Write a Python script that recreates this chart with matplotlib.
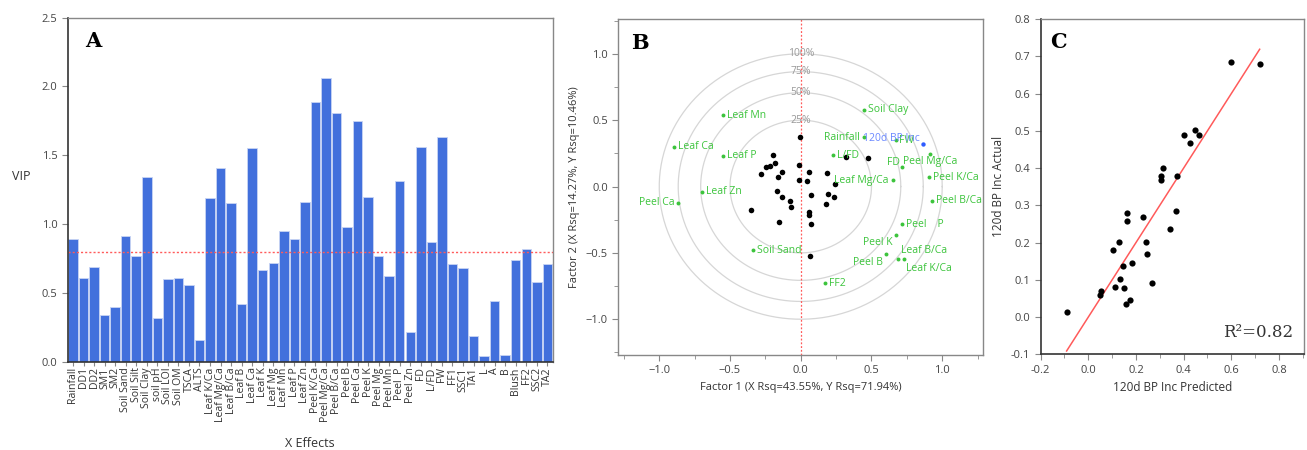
import numpy as np
import matplotlib
matplotlib.use('Agg')
import matplotlib.pyplot as plt

plt.rcParams['font.family'] = ['Open Sans', 'DejaVu Sans']

# ---- panel A data: VIP per X effect
effects = ['Rainfall', 'DD1', 'DD2', 'SM1', 'SM2', 'Soil Sand', 'Soil Silt', 'Soil Clay',
           'soil pH', 'Soil LOI', 'Soil OM', 'TSCA', 'ALTS', 'Leaf K/Ca', 'Leaf Mg/Ca',
           'Leaf B/Ca', 'Leaf B', 'Leaf Ca', 'Leaf K', 'Leaf Mg', 'Leaf Mn', 'Leaf P',
           'Leaf Zn', 'Peel K/Ca', 'Peel Mg/Ca', 'Peel B/Ca', 'Peel B', 'Peel Ca', 'Peel K',
           'Peel Mg', 'Peel Mn', 'Peel  P', 'Peel Zn', 'FD', 'L/FD', 'FW', 'FF1', 'SSC1',
           'TA1', 'L', 'A', 'B', 'Blush', 'FF2', 'SSC2', 'TA2']
vip = [0.89, 0.61, 0.69, 0.34, 0.40, 0.91, 0.77, 1.34,
       0.32, 0.60, 0.61, 0.56, 0.16, 1.19, 1.41,
       1.15, 0.42, 1.55, 0.67, 0.72, 0.95, 0.89,
       1.16, 1.89, 2.06, 1.81, 0.98, 1.75, 1.20,
       0.77, 0.62, 1.31, 0.22, 1.56, 0.87, 1.63, 0.71, 0.68,
       0.19, 0.04, 0.44, 0.05, 0.74, 0.82, 0.58, 0.71]
vip_cut = 0.8

# ---- panel B data: loadings (green), response (blue), scores (black)
load_names = ['Leaf Mn', 'Leaf Ca', 'Leaf P', 'Leaf Zn', 'Peel Ca', 'Soil Clay', 'Rainfall',
              'FW', 'L/FD', 'FD', 'Peel Mg/Ca', 'Leaf Mg/Ca', 'Peel K/Ca', 'Peel B/Ca',
              'Peel    P', 'Peel K', 'Peel B', 'Leaf B/Ca', 'Leaf K/Ca', 'FF2', 'Soil Sand']
load_x = [-0.548, -0.894, -0.546, -0.699, -0.866, 0.445, 0.447,
          0.670, 0.228, 0.717, 0.917, 0.652, 0.908, 0.929,
          0.715, 0.670, 0.602, 0.685, 0.729, 0.169, -0.339]
load_y = [0.537, 0.298, 0.232, -0.038, -0.121, 0.577, 0.373,
          0.351, 0.237, 0.144, 0.247, 0.048, 0.071, -0.108,
          -0.284, -0.365, -0.511, -0.544, -0.547, -0.730, -0.481]
resp_name = '120d BP Inc'
resp_x = 0.863
resp_y = 0.323
score_x = [-0.007, -0.195, -0.183, -0.214, -0.247, -0.284, -0.134, -0.160, -0.012, -0.009,
           0.056, 0.047, 0.186, 0.240, 0.322, 0.473, -0.169, -0.132, -0.078, -0.068,
           -0.355, -0.153, 0.075, 0.195, 0.233, 0.176, 0.059, 0.059, 0.071, 0.064]
score_y = [0.370, 0.234, 0.179, 0.156, 0.146, 0.093, 0.111, 0.071, 0.164, 0.048,
           0.109, 0.043, 0.101, 0.020, 0.222, 0.212, -0.030, -0.076, -0.106, -0.151,
           -0.176, -0.265, -0.063, -0.060, -0.078, -0.128, -0.191, -0.211, -0.279, -0.526]
ring_pct = [25, 50, 75, 100]

# ---- panel C data: predicted vs actual
pred = [-0.091, 0.597, 0.719, 0.402, 0.426, 0.448, 0.464, 0.314, 0.303, 0.304,
        0.371, 0.366, 0.342, 0.164, 0.164, 0.229, 0.128, 0.103, 0.240, 0.248,
        0.185, 0.145, 0.131, 0.112, 0.150, 0.269, 0.174, 0.157, 0.055, 0.049]
actual = [0.013, 0.685, 0.679, 0.490, 0.468, 0.502, 0.490, 0.401, 0.380, 0.368,
          0.380, 0.285, 0.237, 0.279, 0.257, 0.268, 0.202, 0.180, 0.202, 0.168,
          0.146, 0.138, 0.101, 0.081, 0.079, 0.092, 0.046, 0.034, 0.069, 0.058]
r2 = 0.82

# label placement for panel B (offset in pixels, alignment)
label_pos = {
    'Leaf Mn': ((4, 0), 'left'), 'Leaf Ca': ((4, 0), 'left'), 'Leaf P': ((4, 0), 'left'),
    'Leaf Zn': ((4, 0), 'left'), 'Peel Ca': ((-4, 0), 'right'), 'Soil Clay': ((4, 0), 'left'),
    'Rainfall': ((-4, 0), 'right'), 'FW': ((3, -1), 'left'), 'L/FD': ((4, 0), 'left'),
    'FD': ((-2, 5), 'right'), 'Peel Mg/Ca': ((0, -8), 'center'), 'Leaf Mg/Ca': ((-4, 0), 'right'),
    'Peel K/Ca': ((4, 0), 'left'), 'Peel B/Ca': ((4, 0), 'left'), 'Peel    P': ((4, 0), 'left'),
    'Peel K': ((-3, -8), 'right'), 'Peel B': ((-3, -8), 'right'), 'Leaf B/Ca': ((3, 8), 'left'),
    'Leaf K/Ca': ((2, -9), 'left'), 'FF2': ((4, 0), 'left'), 'Soil Sand': ((4, 0), 'left'),
}

bar_c = '#4270dc'
green = '#3cc43c'
red = '#ff5a5a'
tick_c = '#444444'
dark = '#333333'
light = '#888888'

fig = plt.figure(figsize=(13.07, 4.5), dpi=100)

def style_box(ax, strong=('left', 'bottom')):
  for side, sp in ax.spines.items():
    if side in strong:
      sp.set_color(dark)
      sp.set_linewidth(1.2)
    else:
      sp.set_color(light)
      sp.set_linewidth(1.0)
  ax.tick_params(colors=light, labelcolor=tick_c, labelsize=8, length=4)
  ax.tick_params(which='minor', colors=light, length=3)

# ---------------- A
axA = fig.add_axes([0.0518, 0.196, 0.371, 0.765])
x = np.arange(len(effects))
axA.bar(x, vip, width=0.9, color=bar_c, edgecolor='#c8d4f4', linewidth=0.6)
axA.axhline(vip_cut, color=red, ls=(0, (1.5, 1.5)), lw=1.0)
axA.set_xlim(-0.5, len(effects) - 0.5)
axA.set_ylim(0, 2.5)
axA.set_yticks(np.arange(0, 2.51, 0.5))
axA.set_xticks(x)
axA.set_xticklabels(effects, rotation=90)
style_box(axA)
axA.tick_params(axis='x', length=3, pad=1, labelsize=7.6, labelcolor=dark)
axA.set_ylabel('VIP', rotation=0, fontsize=9, color=dark)
axA.yaxis.set_label_coords(-0.095, 0.52)
axA.text(0.5, -0.236, 'X Effects', transform=axA.transAxes, fontsize=9, color=dark,
         ha='center', va='center')
axA.text(0.035, 0.96, 'A', transform=axA.transAxes, fontsize=15, fontweight='bold',
         family='DejaVu Serif', va='top')

# ---------------- B
axB = fig.add_axes([0.473, 0.211, 0.2793, 0.746])
t = np.linspace(0, 2 * np.pi, 400)
for p in ring_pct:
  r = np.sqrt(p / 100)
  axB.plot(r * np.cos(t), r * np.sin(t), color='#d6d6d6', lw=0.9, zorder=1)
  axB.text(0, r, '{}%'.format(p), ha='center', va='center', fontsize=7.5,
           color='#999999', zorder=2)
axB.axvline(0, color=red, ls=(0, (1.5, 1.5)), lw=0.9, zorder=2)
axB.scatter(score_x, score_y, s=16, color='black', zorder=4, linewidths=0)
axB.scatter(load_x, load_y, s=8, color=green, zorder=4, linewidths=0)
for name, lx, ly in zip(load_names, load_x, load_y):
  off, ha = label_pos[name]
  axB.annotate(name, (lx, ly), xytext=off, textcoords='offset pixels', ha=ha,
               va='center', fontsize=7.5, color=green, zorder=5)
axB.scatter([resp_x], [resp_y], s=10, color='#2f5cff', zorder=4, linewidths=0)
axB.annotate(resp_name, (resp_x, resp_y), xytext=(-3, 5), textcoords='offset pixels',
             ha='right', va='center', fontsize=7.5, color='#6a88ff', zorder=5)
axB.set_xlim(-1.29, 1.29)
axB.set_ylim(-1.27, 1.26)
axB.set_xticks([-1.0, -0.5, 0.0, 0.5, 1.0])
axB.set_yticks([-1.0, -0.5, 0.0, 0.5, 1.0])
axB.set_xticks(np.arange(-1.25, 1.3, 0.25), minor=True)
axB.set_yticks(np.arange(-1.25, 1.3, 0.25), minor=True)
style_box(axB, strong=())
axB.xaxis.get_major_ticks()[2].tick1line.set_color(red)
axB.yaxis.get_major_ticks()[2].tick1line.set_color(red)
axB.set_xlabel('Factor 1 (X Rsq=43.55%, Y Rsq=71.94%)', fontsize=8, color=dark, labelpad=4)
axB.set_ylabel('Factor 2 (X Rsq=14.27%, Y Rsq=10.46%)', fontsize=8, color=dark, labelpad=4)
axB.text(0.035, 0.96, 'B', transform=axB.transAxes, fontsize=15, fontweight='bold',
         family='DejaVu Serif', va='top')

# ---------------- C
axC = fig.add_axes([0.7962, 0.2126, 0.2015, 0.745])
lo, hi = min(pred), max(pred)
axC.plot([lo, hi], [lo, hi], color=red, lw=1.1, zorder=2)
axC.scatter(pred, actual, s=20, color='black', zorder=3, linewidths=0)
axC.set_xlim(-0.2, 0.905)
axC.set_ylim(-0.1, 0.8)
axC.set_xticks(np.arange(-0.2, 0.81, 0.2))
axC.set_xticks(np.arange(-0.2, 0.91, 0.1), minor=True)
axC.set_yticks(np.arange(-0.1, 0.81, 0.1))
axC.set_xticklabels(['-0.2', '0.0', '0.2', '0.4', '0.6', '0.8'])
axC.set_yticklabels(['{:.1f}'.format(v) for v in np.arange(-0.1, 0.81, 0.1)])
style_box(axC)
axC.set_xlabel('120d BP Inc Predicted', fontsize=8.5, color=dark, labelpad=4)
axC.set_ylabel('120d BP Inc Actual', fontsize=8.5, color=dark, labelpad=4)
axC.text(0.035, 0.96, 'C', transform=axC.transAxes, fontsize=15, fontweight='bold',
         family='DejaVu Serif', va='top')
axC.text(0.96, 0.04, 'R\u00b2={:.2f}'.format(r2), transform=axC.transAxes, fontsize=12,
         family='DejaVu Serif', ha='right', va='bottom', color=dark)

fig.savefig('out.png', dpi=100)
